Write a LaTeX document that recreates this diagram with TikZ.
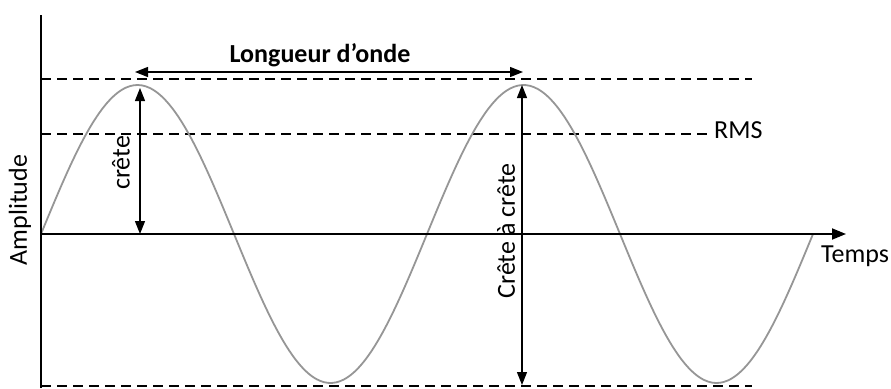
\documentclass[tikz,border=0pt]{standalone}
\usepackage{fontspec}
\setmainfont{Carlito}
\usetikzlibrary{arrows.meta, positioning}
\definecolor{wave}{RGB}{150,150,150}

\begin{document}
\begin{tikzpicture}[x=1pt, y=-1pt,
  font=\fontsize{26}{30}\selectfont,
  lbl/.style={inner sep=1pt},
  axe/.style={line width=1.8pt},
  aa/.style={line width=1.3pt, {Triangle[length=13pt, width=10pt]}-{Triangle[length=13pt, width=10pt]}},
  dsh/.style={line width=1.2pt, dash pattern=on 10pt off 6pt}]
\useasboundingbox (0,0) rectangle (891,388);
% reference points
\coordinate (O) at (41,234);
\coordinate (ytop) at (41,15);
\coordinate (ybot) at (41,388);
\coordinate (xend) at (846,234);
\coordinate (pk1) at (140,88);
\coordinate (pk2) at (522,85);
\coordinate (ax1) at (140,234);
\coordinate (bt2) at (522,385);
\coordinate (wl1) at (135,72);
\coordinate (wl2) at (523,72);
% dashed levels
\coordinate (top1) at (41,79);  \coordinate (top2) at (752,79);
\coordinate (rms1) at (41,134); \coordinate (rms2) at (711,134);
\coordinate (bot1) at (41,386); \coordinate (bot2) at (752,386);
\draw[dsh] (top1) -- (top2);
\draw[dsh] (rms1) -- (rms2);
\draw[dsh] (bot1) -- (bot2);
% wave
\draw[wave, line width=1.8pt] plot[domain=41:813, samples=200, smooth]
  (\x, {234 - 149*sin((\x-41)/386*360)});
% axes
\draw[axe] (ybot) -- (ytop);
\draw[axe, -{Triangle[length=14pt, width=11pt]}] (O) -- (xend);
% labels
\node[lbl, anchor=base west] (rms) at (713,138) {RMS};
\node[lbl, anchor=base, font=\fontsize{26}{30}\selectfont\bfseries] (wlen) at (320,62) {Longueur d’onde};
\node[lbl, anchor=base west] (temps) at (820,262) {Temps};
\node[lbl, rotate=90] (ampl) at (20,210) {Amplitude};
\node[lbl, rotate=90] (crete) at (121,163) {crête};
\node[lbl, rotate=90] (cc) at (506,231) {Crête à crête};
% measures
\draw[aa] (wl1) -- (wl2);
\draw[aa] (pk1) -- (ax1);
\draw[aa] (pk2) -- (bt2);
\end{tikzpicture}
\end{document}
